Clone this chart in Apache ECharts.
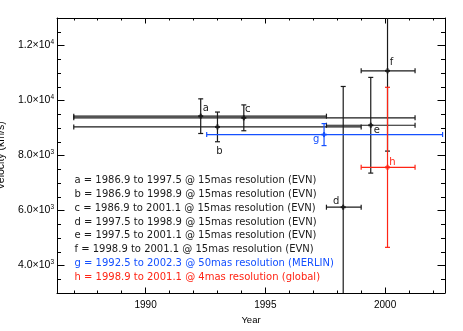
<!DOCTYPE html>
<html><head><meta charset="utf-8">
<script src="https://cdn.jsdelivr.net/npm/echarts@6/dist/echarts.min.js"></script>
<style>html,body{margin:0;padding:0;background:#fff}#c{width:463px;height:331px}</style>
</head><body><div id="c"></div>
<script>
// ---- data ----
const labels   = ['a', 'b', 'c', 'd', 'e', 'f', 'g', 'h'];
const xStart   = [1987.0, 1987.0, 1987.0, 1997.55, 1997.55, 1999.0, 1992.55, 1999.0];
const xEnd     = [1997.55, 1999.0, 2001.25, 1999.0, 2001.25, 2001.25, 2002.4, 2001.25];
const xMid     = [1992.3, 1993.0, 1994.1, 1998.25, 1999.4, 2000.1, 1997.45, 2000.1];
const velocity = [9430, 9040, 9370, 6120, 9100, 11080, 8760, 7570];
const velErr   = [630, 540, 470, 4390, 1740, 2920, 400, 2910];
const legendLines = [
  'a = 1986.9 to 1997.5 @ 15mas resolution (EVN)',
  'b = 1986.9 to 1998.9 @ 15mas resolution (EVN)',
  'c = 1986.9 to 2001.1 @ 15mas resolution (EVN)',
  'd = 1997.5 to 1998.9 @ 15mas resolution (EVN)',
  'e = 1997.5 to 2001.1 @ 15mas resolution (EVN)',
  'f = 1998.9 to 2001.1 @ 15mas resolution (EVN)',
  'g = 1992.5 to 2002.3 @ 50mas resolution (MERLIN)',
  'h = 1998.9 to 2001.1 @ 4mas resolution (global)'
];
const xMajorTicks = [1990, 1995, 2000];
const xMinorTicks = [1987, 1988, 1989, 1990, 1991, 1992, 1993, 1994, 1995, 1996, 1997, 1998, 1999, 2000, 2001, 2002];
const yMajorTicks = [4000, 6000, 8000, 10000, 12000];
const yMinorTicks = [3500, 4000, 4500, 5000, 5500, 6000, 6500, 7000, 7500, 8000, 8500, 9000, 9500, 10000, 10500, 11000, 11500, 12000, 12500];

// ---- styles ----
const BLACK = '#1a1a1a', BLUE = '#1450ff', RED = '#ff2414';
const markColor = [BLACK, BLACK, BLACK, BLACK, BLACK, BLACK, BLUE, RED];
const legendColor = [BLACK, BLACK, BLACK, BLACK, BLACK, BLACK, BLUE, RED];
const labelDx = [5, 2, 4, -7, 6, 4, -8, 5];
const labelDy = [-8, 25, -8, -6, 5, -8, 5, -5];

const XMIN = 1986.3, XMAX = 2002.5, YMIN = 3000, YMAX = 13000;

const chart = echarts.init(document.getElementById('c'), null, {renderer: 'canvas'});

function xAxisDef(pos, ticks, len, withLine, withLabel) {
  return {
    type: 'value', position: pos, min: XMIN, max: XMAX,
    splitLine: {show: false},
    axisLine: {show: withLine, onZero: false, lineStyle: {color: '#000', width: 1}},
    axisTick: {show: true, inside: true, length: len, customValues: ticks, lineStyle: {color: '#000', width: 1}},
    axisLabel: withLabel ? {
      show: true, customValues: ticks, margin: 7, color: '#000',
      fontFamily: 'Liberation Sans', fontSize: 10, formatter: v => String(v)
    } : {show: false},
    name: withLabel ? 'Year' : '', nameLocation: 'middle', nameGap: 16,
    nameTextStyle: {color: '#000', fontFamily: 'Liberation Sans', fontSize: 9.5}
  };
}
function yAxisDef(pos, ticks, len, withLine, withLabel) {
  return {
    type: 'value', position: pos, min: YMIN, max: YMAX,
    splitLine: {show: false},
    axisLine: {show: withLine, onZero: false, lineStyle: {color: '#000', width: 1}},
    axisTick: {show: true, inside: true, length: len, customValues: ticks, lineStyle: {color: '#000', width: 1}},
    axisLabel: withLabel ? {
      show: true, customValues: ticks, margin: 3, color: '#000',
      formatter: v => {
        const e = Math.floor(Math.log10(v) + 1e-9);
        const m = (v / Math.pow(10, e)).toFixed(1);
        return '{m|' + m + '×10}{e|' + e + '}';
      },
      rich: {
        m: {fontFamily: 'Liberation Sans', fontSize: 10.5, color: '#000'},
        e: {fontFamily: 'Liberation Sans', fontSize: 6.5, color: '#000', padding: [0, 0, 6, 0]}
      }
    } : {show: false},
    name: withLabel ? 'Velocity (km/s)' : '', nameLocation: 'middle', nameGap: 44,
    nameTextStyle: {color: '#000', fontFamily: 'Liberation Sans', fontSize: 10.5}
  };
}

const data = labels.map((l, i) => [xStart[i], xEnd[i], xMid[i], velocity[i], velErr[i]]);

chart.setOption({
  animation: false,
  backgroundColor: '#fff',
  grid: {left: 57, top: 18, right: 18, bottom: 38, containLabel: false, outerBoundsMode: 'none'},
  xAxis: [
    xAxisDef('bottom', xMajorTicks, 5.5, true, true),
    xAxisDef('bottom', xMinorTicks, 2.5, false, false),
    xAxisDef('top', xMajorTicks, 5.5, true, false),
    xAxisDef('top', xMinorTicks, 2.5, false, false)
  ],
  yAxis: [
    yAxisDef('left', yMajorTicks, 7.5, true, true),
    yAxisDef('left', yMinorTicks, 4, false, false),
    yAxisDef('right', yMajorTicks, 7.5, true, false),
    yAxisDef('right', yMinorTicks, 4, false, false)
  ],
  graphic: legendLines.map((t, i) => ({
    type: 'text', x: 74.5, y: 180.7 + i * 13.76, silent: true,
    style: {text: t, fill: legendColor[i], font: '10px "DejaVu Sans"', verticalAlign: 'middle', align: 'left'}
  })),
  series: [{
    type: 'custom',
    xAxisIndex: 0, yAxisIndex: 0,
    clip: true,
    data: data,
    renderItem: function (params, api) {
      const i = params.dataIndex;
      const x0 = api.value(0), x1 = api.value(1), xm = api.value(2), y = api.value(3), e = api.value(4);
      const cs = params.coordSys;
      const top = cs.y, bot = cs.y + cs.height;
      const pL = api.coord([x0, y]), pR = api.coord([x1, y]), pM = api.coord([xm, y]);
      const pT = api.coord([xm, y + e]), pB = api.coord([xm, y - e]);
      const col = markColor[i];
      const ls = {stroke: col, lineWidth: 1.2};
      const cap = 2.5;
      const ch = [];
      ch.push({type: 'line', shape: {x1: pL[0], y1: pL[1], x2: pR[0], y2: pR[1]}, style: ls});
      ch.push({type: 'line', shape: {x1: pL[0], y1: pL[1] - cap, x2: pL[0], y2: pL[1] + cap}, style: ls});
      ch.push({type: 'line', shape: {x1: pR[0], y1: pR[1] - cap, x2: pR[0], y2: pR[1] + cap}, style: ls});
      const yt = Math.max(pT[1], top), yb = Math.min(pB[1], bot);
      ch.push({type: 'line', shape: {x1: pM[0], y1: yt, x2: pM[0], y2: yb}, style: ls});
      if (pT[1] >= top) ch.push({type: 'line', shape: {x1: pM[0] - cap, y1: pT[1], x2: pM[0] + cap, y2: pT[1]}, style: ls});
      if (pB[1] <= bot) ch.push({type: 'line', shape: {x1: pM[0] - cap, y1: pB[1], x2: pM[0] + cap, y2: pB[1]}, style: ls});
      ch.push({type: 'line', shape: {x1: pM[0] - 2.5, y1: pM[1], x2: pM[0] + 2.5, y2: pM[1]}, style: {stroke: col, lineWidth: 2}});
      ch.push({type: 'line', shape: {x1: pM[0], y1: pM[1] - 2.5, x2: pM[0], y2: pM[1] + 2.5}, style: {stroke: col, lineWidth: 2}});
      ch.push({type: 'text', x: pM[0] + labelDx[i], y: pM[1] + labelDy[i],
        style: {text: labels[i], fill: col, font: '10px "DejaVu Sans"', align: 'center', verticalAlign: 'middle'}});
      return {type: 'group', children: ch};
    }
  }]
});
</script>
</body></html>
